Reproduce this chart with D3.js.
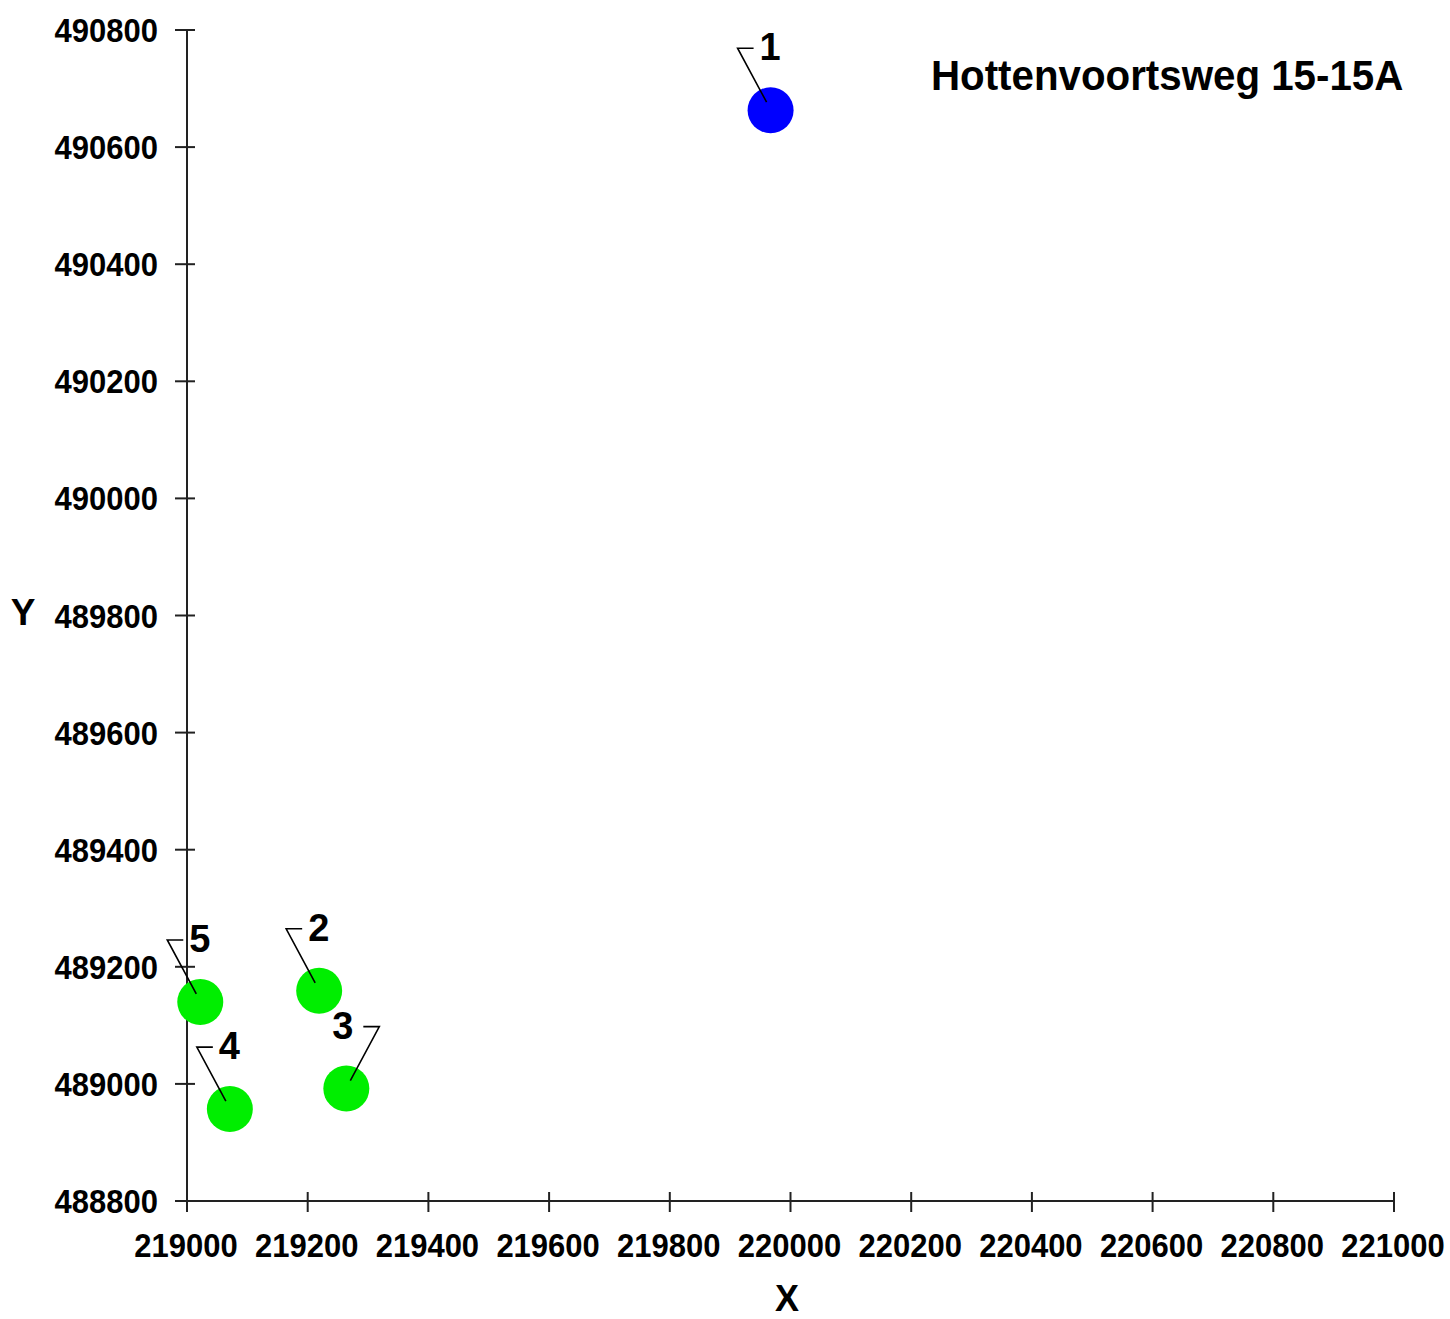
<!DOCTYPE html>
<html>
<head>
<meta charset="utf-8">
<script src="https://cdn.jsdelivr.net/npm/d3@7"></script>
<style>
  html, body { margin: 0; padding: 0; background: #fff; }
  svg { display: block; }
  text { font-family: "Liberation Sans", Arial, sans-serif; font-weight: bold; fill: #000; }
</style>
</head>
<body>
<svg id="chart" width="1450" height="1319"></svg>
<script>
// ---- data ----
const pointIds   = ["1", "2", "3", "4", "5"];
const xValues    = [219967, 219219, 219264, 219071, 219022];
const yValues    = [490663, 489159, 488992, 488957, 489140];
const groups     = ["source", "receiver", "receiver", "receiver", "receiver"];
const labelSides = ["left", "left", "right", "left", "left"];
const xTicks     = [219000, 219200, 219400, 219600, 219800, 220000, 220200, 220400, 220600, 220800, 221000];
const yTicks     = [488800, 489000, 489200, 489400, 489600, 489800, 490000, 490200, 490400, 490600, 490800];
const chartTitle = "Hottenvoortsweg 15-15A";
const xTitle = "X";
const yTitle = "Y";

const colorByGroup = { source: "#0000ff", receiver: "#00ee00" };

const svg = d3.select("#chart");
const x = d3.scaleLinear().domain([219000, 221000]).range([187, 1394]);
const y = d3.scaleLinear().domain([488800, 490800]).range([1201, 30]);

const axisColor = "#222";
const vStretch = 1.1;

// X axis
const gx = svg.append("g");
gx.append("line")
  .attr("x1", x(219000)).attr("x2", x(221000))
  .attr("y1", y(488800)).attr("y2", y(488800))
  .attr("stroke", axisColor).attr("stroke-width", 2);
gx.selectAll("line.tick").data(xTicks).join("line")
  .attr("class", "tick")
  .attr("x1", d => x(d)).attr("x2", d => x(d))
  .attr("y1", y(488800) - 9).attr("y2", y(488800) + 11)
  .attr("stroke", axisColor).attr("stroke-width", 2);
gx.selectAll("text").data(xTicks).join("text")
  .attr("transform", d => `translate(${x(d) - 1},${y(488800) + 56}) scale(1,${vStretch})`)
  .attr("text-anchor", "middle")
  .attr("font-size", 31)
  .text(d => d);

// Y axis
const gy = svg.append("g");
gy.append("line")
  .attr("x1", x(219000)).attr("x2", x(219000))
  .attr("y1", y(490800)).attr("y2", y(488800))
  .attr("stroke", axisColor).attr("stroke-width", 2);
gy.selectAll("line.tick").data(yTicks).join("line")
  .attr("class", "tick")
  .attr("x1", x(219000) - 12).attr("x2", x(219000) + 8)
  .attr("y1", d => y(d)).attr("y2", d => y(d))
  .attr("stroke", axisColor).attr("stroke-width", 2);
gy.selectAll("text").data(yTicks).join("text")
  .attr("transform", d => `translate(${x(219000) - 29},${y(d) + 12}) scale(1,${vStretch})`)
  .attr("text-anchor", "end")
  .attr("font-size", 31)
  .text(d => d);

// axis titles
svg.append("text").attr("x", 787).attr("y", 1311).attr("text-anchor", "middle")
  .attr("font-size", 36).text(xTitle);
svg.append("text").attr("x", 23).attr("y", 625).attr("text-anchor", "middle")
  .attr("font-size", 37).text(yTitle);

// chart title
svg.append("text")
  .attr("transform", `translate(931,89.5) scale(1,1.07)`)
  .attr("font-size", 40.3).text(chartTitle);

// points
const pts = pointIds.map((id, i) => ({
  id, xv: xValues[i], yv: yValues[i], g: groups[i], side: labelSides[i]
}));

const gp = svg.append("g");
gp.selectAll("circle").data(pts).join("circle")
  .attr("cx", d => x(d.xv)).attr("cy", d => y(d.yv))
  .attr("r", 23)
  .attr("fill", d => colorByGroup[d.g]);

// leader lines
gp.selectAll("path.leader").data(pts).join("path")
  .attr("class", "leader")
  .attr("d", d => {
    const cx = x(d.xv), cy = y(d.yv);
    const s = d.side === "left" ? -1 : 1;
    const sx = cx + s * 4, sy = cy - 8;
    const tx = cx + s * 33, ty = cy - 62;
    const hx = cx + s * 17;
    return `M${sx},${sy}L${tx},${ty}L${hx},${ty}`;
  })
  .attr("fill", "none").attr("stroke", "#000").attr("stroke-width", 1.6);

gp.selectAll("text").data(pts).join("text")
  .attr("x", d => x(d.xv) + (d.side === "left" ? -11 : 7))
  .attr("y", d => y(d.yv) - 50)
  .attr("text-anchor", d => d.side === "left" ? "start" : "end")
  .attr("font-size", 38)
  .text(d => d.id);
</script>
</body>
</html>
